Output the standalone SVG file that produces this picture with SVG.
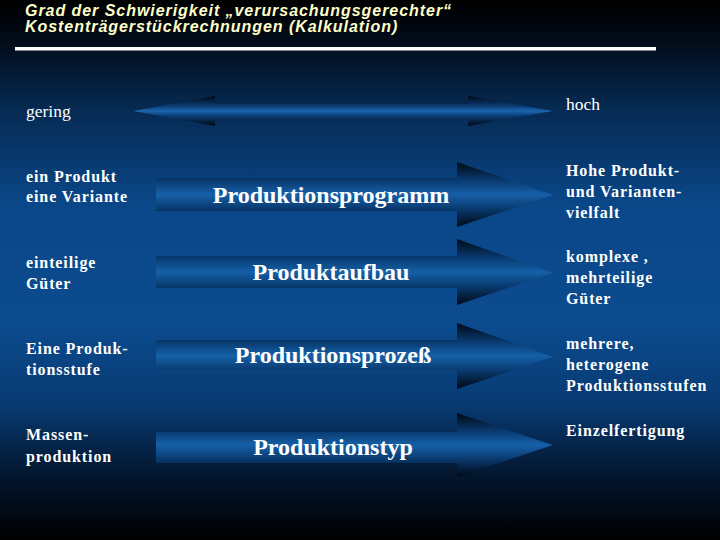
<svg xmlns="http://www.w3.org/2000/svg" width="720" height="540" viewBox="0 0 720 540">
<defs>
<linearGradient id="bg" x1="0" y1="0" x2="0" y2="1">
<stop offset="0" stop-color="#000000"/>
<stop offset="0.08" stop-color="#020c1a"/>
<stop offset="0.2" stop-color="#062a52"/>
<stop offset="0.38" stop-color="#0a4789"/>
<stop offset="0.6" stop-color="#0b4b8e"/>
<stop offset="0.75" stop-color="#083a72"/>
<stop offset="0.88" stop-color="#03162e"/>
<stop offset="1" stop-color="#000000"/>
</linearGradient>
<linearGradient id="arr" x1="0" y1="0" x2="0" y2="1">
<stop offset="0" stop-color="#000814"/>
<stop offset="0.3" stop-color="#0a3d74"/>
<stop offset="0.5" stop-color="#1560a8"/>
<stop offset="0.7" stop-color="#0a3d74"/>
<stop offset="1" stop-color="#000814"/>
</linearGradient>
<linearGradient id="dbl" x1="0" y1="0" x2="0" y2="1">
<stop offset="0" stop-color="#000814"/>
<stop offset="0.35" stop-color="#0c3f78"/>
<stop offset="0.5" stop-color="#1a66b0"/>
<stop offset="0.65" stop-color="#0c3f78"/>
<stop offset="1" stop-color="#000814"/>
</linearGradient>
</defs>
<style>
.title{font-family:"Liberation Sans",Arial,sans-serif;font-size:16px;font-weight:bold;font-style:italic;fill:#ffffc8;letter-spacing:0.95px}
.side{font-family:"Liberation Serif","Times New Roman",serif;font-size:16px;font-weight:bold;fill:#ffffff;letter-spacing:0.9px}
.scale{font-family:"Liberation Serif","Times New Roman",serif;font-size:17.5px;fill:#ffffff}
.lbl{font-family:"Liberation Serif","Times New Roman",serif;font-size:24px;font-weight:bold;fill:#ffffff;text-anchor:middle}
</style>
<rect x="0" y="0" width="720" height="540" fill="url(#bg)"/>
<g id="title">
<text class="title" x="25" y="16">Grad der Schwierigkeit „verursachungsgerechter“</text>
<text class="title" x="25" y="32">Kostenträgerstückrechnungen (Kalkulation)</text>
<line x1="15" y1="48.7" x2="656" y2="48.7" stroke="#ffffff" stroke-width="3.5"/>
</g>
<g id="connectors">
<polygon id="scale-arrow" points="133,111 215,96 215,104 468,104 468,96 553,111 468,126 468,118 215,118 215,126" fill="url(#dbl)"/>
</g>
<g id="scale-low"><text class="scale" x="26" y="117">gering</text></g>
<g id="scale-high"><text class="scale" x="566" y="110">hoch</text></g>
<g id="arrow1">
<polygon points="156,178 457,178 457,162 553,195 457,227 457,211 156,211" fill="url(#arr)"/>
<text class="lbl" x="331" y="203">Produktionsprogramm</text>
</g>
<g id="arrow2">
<polygon points="156,256 457,256 457,239 553,273 457,305 457,288 156,288" fill="url(#arr)"/>
<text class="lbl" x="331" y="280">Produktaufbau</text>
</g>
<g id="arrow3">
<polygon points="156,340 457,340 457,323 553,357 457,389 457,370 156,370" fill="url(#arr)"/>
<text class="lbl" x="333" y="363">Produktionsprozeß</text>
</g>
<g id="arrow4">
<polygon points="156,432 457,432 457,413 553,445 457,477 457,463 156,463" fill="url(#arr)"/>
<text class="lbl" x="333" y="455">Produktionstyp</text>
</g>
<g id="left1"><text class="side" x="26" y="182">ein Produkt</text><text class="side" x="26" y="202">eine Variante</text></g>
<g id="left2"><text class="side" x="26" y="268">einteilige</text><text class="side" x="26" y="289">Güter</text></g>
<g id="left3"><text class="side" x="26" y="354">Eine Produk-</text><text class="side" x="26" y="375">tionsstufe</text></g>
<g id="left4"><text class="side" x="26" y="440">Massen-</text><text class="side" x="26" y="462">produktion</text></g>
<g id="right1"><text class="side" x="566" y="176">Hohe Produkt-</text><text class="side" x="566" y="197">und Varianten-</text><text class="side" x="566" y="218">vielfalt</text></g>
<g id="right2"><text class="side" x="566" y="262">komplexe ,</text><text class="side" x="566" y="283">mehrteilige</text><text class="side" x="566" y="304">Güter</text></g>
<g id="right3"><text class="side" x="566" y="349">mehrere,</text><text class="side" x="566" y="370">heterogene</text><text class="side" x="566" y="391">Produktionsstufen</text></g>
<g id="right4"><text class="side" x="566" y="436">Einzelfertigung</text></g>
</svg>
